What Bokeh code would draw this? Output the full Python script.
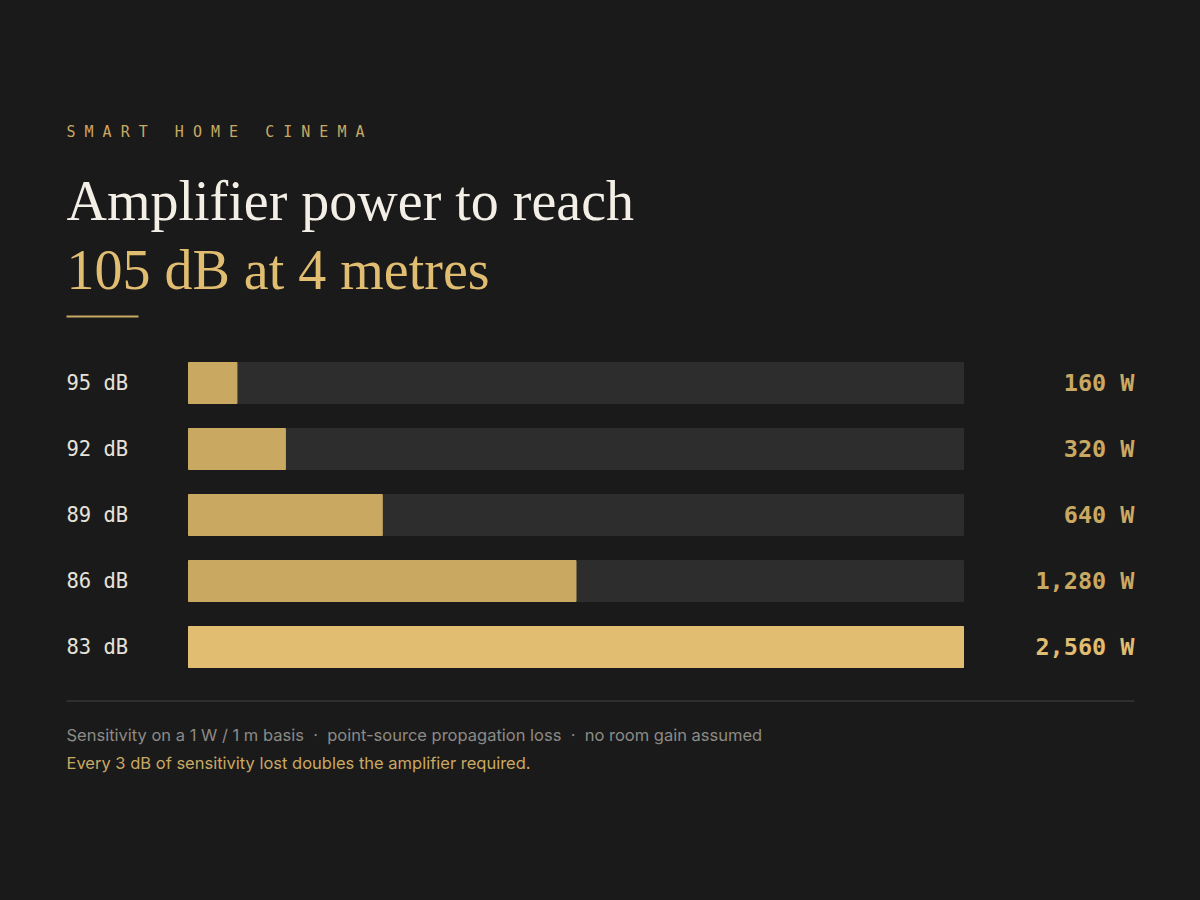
from bokeh.plotting import figure
from bokeh.models import Range1d
from bokeh.embed import file_html
from bokeh.resources import INLINE
from bokeh.core.properties import value

# ---------------- data ----------------
sensitivity = ["95 dB", "92 dB", "89 dB", "86 dB", "83 dB"]
power_w = [160, 320, 640, 1280, 2560]
eyebrow = "SMART HOME CINEMA"
title_1 = "Amplifier power to reach"
title_2 = "105 dB at 4 metres"
footnote = "Sensitivity on a 1 W / 1 m basis \u00a0\u00b7\u00a0 point-source propagation loss \u00a0\u00b7\u00a0 no room gain assumed"
takeaway = "Every 3 dB of sensitivity lost doubles the amplifier required."

# ---------------- style ----------------
BG = "#1a1a1a"
TRACK = "#2d2d2d"
GOLD = "#c9a862"
GOLD_HI = "#e0bd70"
IVORY = "#f3eee6"
LABEL = "#e6e2da"
GREY = "#8c8a86"
RULE = "#444444"
MONO = "DejaVu Sans Mono"

W, H = 1184, 884
track_left, track_right = 188, 963
row0_center = 382.5
row_step = 66
bar_px = 41

scale_max = max(power_w)
w_per_px = scale_max / (track_right - track_left)
x_start = -track_left * w_per_px
x_end = x_start + W * w_per_px
y_top = row0_center / row_step
y_bottom = -(H - row0_center) / row_step

rows = [-i for i in range(len(sensitivity))]
bar_colors = [GOLD_HI if v == scale_max else GOLD for v in power_w]
val_text = [f"{v:,}\u00a0W" for v in power_w]
lab_text = [s.replace(" ", "\u00a0") for s in sensitivity]

p = figure(width=W, height=H, x_range=Range1d(x_start, x_end), y_range=Range1d(y_bottom, y_top),
           output_backend="svg", toolbar_location=None, x_axis_location=None, y_axis_location=None,
           min_border=0, min_border_left=0, min_border_right=0, min_border_top=0, min_border_bottom=0,
           background_fill_color=BG, border_fill_color=BG, outline_line_color=None)
p.grid.visible = False
p.extra_x_ranges = {"px": Range1d(0, W)}
p.extra_y_ranges = {"px": Range1d(H, 0)}

bh = bar_px / row_step
p.hbar(y=rows, left=0, right=scale_max, height=bh, color=TRACK)
p.hbar(y=rows, left=0, right=power_w, height=bh, color=bar_colors)

p.text(x=[66] * len(rows), y=rows, text=lab_text, x_range_name="px",
       text_font=value(MONO), text_font_size="20.5px", text_color=LABEL,
       text_align="left", text_baseline="middle")
p.text(x=[1134] * len(rows), y=rows, text=val_text, x_range_name="px",
       text_font=value(MONO), text_font_size="23.5px", text_font_style="bold",
       text_color=bar_colors, text_align="right", text_baseline="middle")

def lab(x, y, t, font, size, color, style="normal"):
    p.text(x=[x], y=[y - 0.4 * size], text=[t], x_range_name="px", y_range_name="px",
           text_font=value(font), text_font_size=f"{size}px", text_color=color,
           text_font_style=style, text_align="left", text_baseline="alphabetic")

lab(66, 137, "\u00a0".join(eyebrow.replace(" ", "\u00a0")), MONO, 15, GOLD)
lab(66, 223, title_1, "Liberation Serif", 56, IVORY)
lab(66, 292, title_2, "Liberation Serif", 56, GOLD_HI)
lab(66, 741, footnote, "Inter", 16.5, GREY)
lab(66, 769, takeaway, "Inter", 16.5, GOLD)

p.segment(x0=[66], x1=[138], y0=[316], y1=[316],
          x_range_name="px", y_range_name="px", line_color=GOLD, line_width=2)
p.segment(x0=[66], x1=[1134], y0=[700.5], y1=[700.5],
          x_range_name="px", y_range_name="px", line_color=RULE, line_width=1)

html = file_html(p, INLINE, title="Amplifier power")
html = html.replace("<head>", "<head><style>html,body{background:#1a1a1a;}</style>", 1)
open("out.html", "w").write(html)
